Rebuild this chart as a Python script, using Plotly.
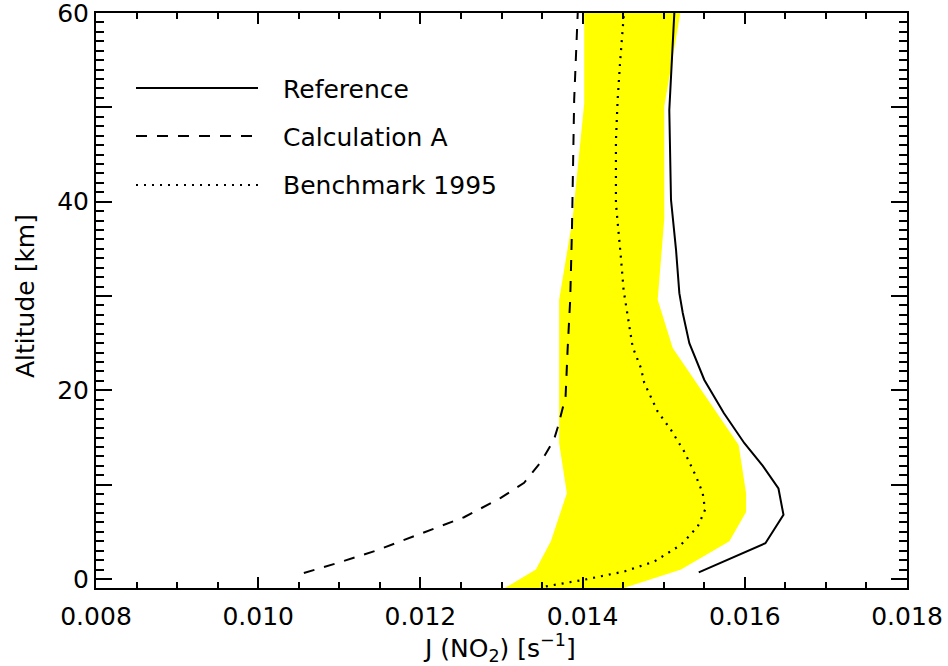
import plotly.graph_objects as go

# ---- data ----
ref_alt = [0.7, 3.8, 6.8, 9.6, 12.0, 14.4, 17.6, 21.1, 25.0, 28.2, 30.3, 34.9, 40.2, 49.7, 60.0]
ref_j = [0.015432, 0.016254, 0.016477, 0.016415, 0.016222, 0.015995, 0.015741, 0.015501,
         0.015316, 0.015235, 0.015193, 0.015152, 0.015090, 0.015069, 0.015131]

calc_alt = [0.64, 1.69, 3.0, 4.8, 6.55, 8.6, 10.2, 12.4, 14.75, 16.0, 19.3, 24.3, 29.6, 36.65, 40.2, 50.8, 60.0]
calc_j = [0.010563, 0.010975, 0.011448, 0.012004, 0.012538, 0.012991, 0.013279, 0.013485,
          0.013646, 0.013691, 0.013790, 0.013815, 0.013847, 0.013868, 0.013877, 0.013896, 0.013940]

bench_alt = [-0.78, -0.07, 0.8, 1.86, 3.63, 5.57, 7.34, 9.11, 10.87, 13.5, 15.8, 17.75, 20.8, 22.35,
             24.6, 28.2, 30.6, 34.0, 37.35, 39.8, 46.5, 50.8, 55.0, 60.0]
bench_j = [0.013547, 0.014020, 0.014514, 0.014884, 0.015214, 0.015420, 0.015510, 0.015481, 0.015399,
           0.015254, 0.015090, 0.014926, 0.014760, 0.014720, 0.014617, 0.014547, 0.014506, 0.014473,
           0.014440, 0.014411, 0.014411, 0.014432, 0.014464, 0.014510]

band_lo_alt = [-1.0, 1.0, 4.0, 9.1, 14.4, 29.6, 38.2, 50.4, 60.0]
band_lo_j = [0.013032, 0.013424, 0.013609, 0.013806, 0.013711, 0.013711, 0.013877, 0.014020, 0.014020]
band_hi_alt = [-1.0, 1.0, 4.0, 7.1, 9.1, 14.2, 24.5, 29.6, 38.2, 50.1, 60.0]
band_hi_j = [0.014490, 0.015213, 0.015810, 0.016016, 0.016016, 0.015924, 0.015111, 0.014926,
             0.015007, 0.015007, 0.015205]

x_tickvals = [0.008, 0.010, 0.012, 0.014, 0.016, 0.018]
x_ticktext = ["0.008", "0.010", "0.012", "0.014", "0.016", "0.018"]
y_tickvals = [0, 10, 20, 30, 40, 50, 60]
y_ticktext = ["0", "", "20", "", "40", "", "60"]

legend_names = ["Reference", "Calculation A", "Benchmark 1995"]
legend_dashes = ["solid", "11px,10px", "2px,6px"]

FONT = "DejaVu Sans"
FS = 25

fig = go.Figure()

# yellow uncertainty band (polygon from the two edges)
poly_x = band_lo_j + band_hi_j[::-1]
poly_y = band_lo_alt + band_hi_alt[::-1]
fig.add_trace(go.Scatter(x=poly_x, y=poly_y, mode="lines", fill="toself",
                         fillcolor="#ffff00", line=dict(width=0), hoverinfo="skip",
                         showlegend=False))

fig.add_trace(go.Scatter(x=calc_j, y=calc_alt, mode="lines",
                         line=dict(color="black", width=2, dash=legend_dashes[1]),
                         name=legend_names[1], showlegend=False))
fig.add_trace(go.Scatter(x=bench_j, y=bench_alt, mode="lines",
                         line=dict(color="black", width=2.2, dash=legend_dashes[2]),
                         name=legend_names[2], showlegend=False))
fig.add_trace(go.Scatter(x=ref_j, y=ref_alt, mode="lines",
                         line=dict(color="black", width=2, dash=legend_dashes[0]),
                         name=legend_names[0], showlegend=False))

# manual legend
L, T = 96, 13
PW, PH = 811, 575
def px_x(p):
    return (p - L) / PW
def px_y(p):
    return (T + PH - p) / PH

leg_rows = [88, 136, 185]
for name, dash, row in zip(legend_names, legend_dashes, leg_rows):
    fig.add_shape(type="line", xref="paper", yref="paper",
                  x0=px_x(136), x1=px_x(258), y0=px_y(row), y1=px_y(row),
                  line=dict(color="black", width=2.2, dash=dash))
    fig.add_annotation(xref="paper", yref="paper", x=px_x(281), y=px_y(row + 1),
                       text=name, showarrow=False, xanchor="left", yanchor="middle",
                       font=dict(family=FONT, size=FS, color="black"))

# axis titles
fig.add_annotation(xref="paper", yref="paper", x=px_x(499), y=px_y(648),
                   text="J (NO<sub>2</sub>) [s<sup>−1</sup>]", showarrow=False,
                   xanchor="center", yanchor="middle",
                   font=dict(family=FONT, size=FS, color="black"))
fig.add_annotation(xref="paper", yref="paper", x=px_x(25), y=px_y(296),
                   text="Altitude [km]", showarrow=False, textangle=-90,
                   xanchor="center", yanchor="middle",
                   font=dict(family=FONT, size=FS, color="black"))

fig.update_layout(
    width=948, height=666,
    margin=dict(l=L, r=948 - L - PW, t=T, b=666 - T - PH, autoexpand=False),
    plot_bgcolor="white", paper_bgcolor="white",
    font=dict(family=FONT, size=FS, color="black"),
    showlegend=False,
)
fig.update_xaxes(
    range=[0.008, 0.018], tickmode="array", tickvals=x_tickvals, ticktext=x_ticktext,
    ticks="inside", ticklen=11, tickwidth=2, tickcolor="black",
    showline=True, linewidth=2, linecolor="black", mirror="ticks",
    showgrid=False, zeroline=False, automargin=False,
    ticklabeloverflow="allow", ticklabelstandoff=5,
    minor=dict(dtick=0.0005, tick0=0.008, ticks="inside", ticklen=6, tickwidth=2,
               tickcolor="black", showgrid=False),
    tickfont=dict(family=FONT, size=FS, color="black"),
)
fig.update_yaxes(
    range=[-0.95, 60], tickmode="array", tickvals=y_tickvals, ticktext=y_ticktext,
    ticks="inside", ticklen=16, tickwidth=2, tickcolor="black",
    showline=True, linewidth=2, linecolor="black", mirror="ticks",
    showgrid=False, zeroline=False, automargin=False,
    ticklabeloverflow="allow",
    minor=dict(dtick=1, tick0=0, ticks="inside", ticklen=8, tickwidth=2,
               tickcolor="black", showgrid=False),
    tickfont=dict(family=FONT, size=FS, color="black"),
)

fig.write_html("out.html")
